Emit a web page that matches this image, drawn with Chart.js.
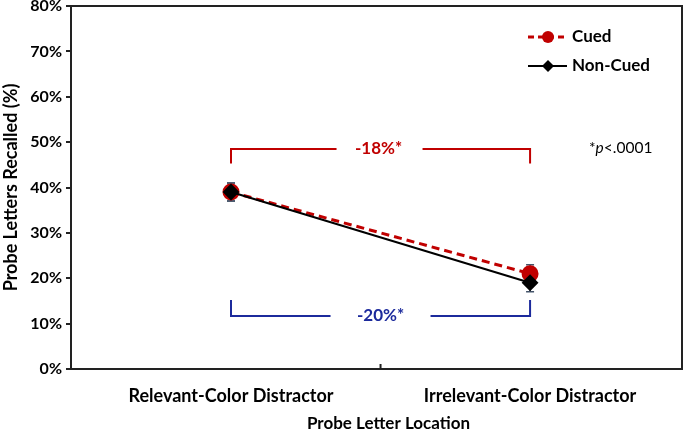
<!DOCTYPE html>
<html><head><meta charset="utf-8">
<script src="https://cdn.jsdelivr.net/npm/chart.js@4/dist/chart.umd.min.js"></script>
<style>html,body{margin:0;padding:0;background:#fff}#wrap{width:685px;height:432px}</style>
</head><body><div id="wrap"><canvas id="c" width="685" height="432"></canvas></div>
<script>
const categories = ["Relevant-Color Distractor", "Irrelevant-Color Distractor"];
const cuedValues = [39, 21];
const nonCuedValues = [39, 19];
const cuedErrors = [2, 2];
const nonCuedErrors = [2, 2];
const yTickValues = [0, 10, 20, 30, 40, 50, 60, 70, 80];
const cuedBracket = {top: 48.5, end: 45.3, label: "-18%*"};
const nonCuedBracket = {bottom: 11.7, end: 15.2, label: "-20%*"};
const seriesNames = ["Cued", "Non-Cued"];
const pNote = ["*", "p", "<.0001"];

const FONT = "Lato, 'Open Sans', sans-serif";
const RED = "#c00000", BLUE = "#1c2a9c", ERR = "#44546a";

const overlay = {
  id: 'overlay',
  beforeDatasetsDraw(chart) {
    const ctx = chart.ctx, x = chart.scales.x, y = chart.scales.y;
    ctx.save();
    ctx.strokeStyle = ERR; ctx.lineWidth = 1.5;
    [[cuedValues, cuedErrors], [nonCuedValues, nonCuedErrors]].forEach(([v, e]) => {
      v.forEach((val, i) => {
        const px = x.getPixelForValue(i);
        const t = y.getPixelForValue(val + e[i]), b = y.getPixelForValue(val - e[i]);
        ctx.beginPath();
        ctx.moveTo(px, t); ctx.lineTo(px, b);
        ctx.moveTo(px - 4, t); ctx.lineTo(px + 4, t);
        ctx.moveTo(px - 4, b); ctx.lineTo(px + 4, b);
        ctx.stroke();
      });
    });
    ctx.restore();
  },
  afterDraw(chart) {
    const ctx = chart.ctx, x = chart.scales.x, y = chart.scales.y, a = chart.chartArea;
    ctx.save();
    ctx.strokeStyle = "#222"; ctx.lineWidth = 2;
    ctx.strokeRect(a.left, a.top, a.right - a.left, a.bottom - a.top);
    const mid = x.getPixelForValue(0.5);
    ctx.beginPath(); ctx.moveTo(mid, a.bottom); ctx.lineTo(mid, a.bottom - 5); ctx.stroke();
    const x0 = x.getPixelForValue(0), x1 = x.getPixelForValue(1);
    ctx.font = "bold 17px " + FONT; ctx.textAlign = "center"; ctx.textBaseline = "middle";
    let yt = y.getPixelForValue(cuedBracket.top), ye = y.getPixelForValue(cuedBracket.end);
    ctx.strokeStyle = RED; ctx.lineWidth = 2;
    ctx.beginPath();
    ctx.moveTo(x0, ye); ctx.lineTo(x0, yt); ctx.lineTo(mid - 44, yt);
    ctx.moveTo(mid + 42, yt); ctx.lineTo(x1, yt); ctx.lineTo(x1, ye);
    ctx.stroke();
    ctx.fillStyle = RED; ctx.fillText(cuedBracket.label, mid - 2, yt);
    let yb = y.getPixelForValue(nonCuedBracket.bottom), ye2 = y.getPixelForValue(nonCuedBracket.end);
    ctx.strokeStyle = BLUE; ctx.lineWidth = 2;
    ctx.beginPath();
    ctx.moveTo(x0, ye2); ctx.lineTo(x0, yb); ctx.lineTo(mid - 50, yb);
    ctx.moveTo(mid + 50, yb); ctx.lineTo(x1, yb); ctx.lineTo(x1, ye2);
    ctx.stroke();
    ctx.fillStyle = BLUE; ctx.fillText(nonCuedBracket.label, mid, yb);
    ctx.fillStyle = "#000"; ctx.textAlign = "left";
    let px = 589; const py = 148;
    ctx.font = "15.5px " + FONT; ctx.fillText(pNote[0], px, py); px += ctx.measureText(pNote[0]).width;
    ctx.font = "italic 15.5px " + FONT; ctx.fillText(pNote[1], px, py); px += ctx.measureText(pNote[1]).width;
    ctx.font = "15.5px " + FONT; ctx.fillText(pNote[2], px, py);
    ctx.font = "bold 17px " + FONT;
    ctx.strokeStyle = RED; ctx.lineWidth = 3; ctx.setLineDash([6, 4]);
    ctx.beginPath(); ctx.moveTo(528, 37); ctx.lineTo(567, 37); ctx.stroke();
    ctx.setLineDash([]);
    ctx.fillStyle = RED; ctx.beginPath(); ctx.arc(548, 37, 6, 0, Math.PI * 2); ctx.fill();
    ctx.fillStyle = "#000"; ctx.fillText(seriesNames[0], 572, 37);
    ctx.strokeStyle = "#000"; ctx.lineWidth = 2;
    ctx.beginPath(); ctx.moveTo(528, 66); ctx.lineTo(567, 66); ctx.stroke();
    ctx.beginPath(); ctx.moveTo(548, 60); ctx.lineTo(554, 66); ctx.lineTo(548, 72); ctx.lineTo(542, 66); ctx.closePath(); ctx.fill();
    ctx.fillText(seriesNames[1], 572, 66);
    ctx.textAlign = "center";
    ctx.fillText("Probe Letter Location", (a.left + a.right) / 2 + 12, 424);
    ctx.save();
    ctx.font = "bold 18px " + FONT;
    ctx.translate(11, (a.top + a.bottom) / 2);
    ctx.rotate(-Math.PI / 2);
    ctx.fillText("Probe Letters Recalled (%)", 0, 0);
    ctx.restore();
    ctx.restore();
  }
};

new Chart(document.getElementById('c'), {
  type: 'line',
  data: {
    datasets: [
      { label: seriesNames[1], data: nonCuedValues.map((v, i) => ({x: i, y: v})), borderColor: "#000", backgroundColor: "#000",
        borderWidth: 2, pointStyle: 'rectRot', pointRadius: 7, pointHoverRadius: 7 },
      { label: seriesNames[0], data: cuedValues.map((v, i) => ({x: i, y: v})), borderColor: RED, backgroundColor: RED,
        borderWidth: 3, borderDash: [8, 5], pointStyle: 'circle', pointRadius: 7, pointHoverRadius: 7 }
    ]
  },
  options: {
    responsive: false, animation: false,
    layout: { autoPadding: false, padding: { top: 6, right: 3, left: 0, bottom: 0 } },
    plugins: { legend: { display: false }, tooltip: { enabled: false } },
    scales: {
      x: {
        type: 'linear', min: -0.535, max: 1.508,
        afterBuildTicks(s) { s.ticks = categories.map((c, i) => ({ value: i })); },
        grid: { display: false },
        border: { display: false },
        ticks: { color: "#000", font: { family: FONT, size: 18, weight: 'bold' }, padding: 8, maxRotation: 0,
          autoSkip: false, callback: (v) => categories[v] },
        afterFit(s) { s.height = 63; s.paddingLeft = 0; s.paddingRight = 0; }
      },
      y: {
        min: 0, max: 80,
        afterBuildTicks(s) { s.ticks = yTickValues.map(v => ({ value: v })); },
        grid: { drawOnChartArea: false, tickLength: 5, color: "#222", lineWidth: 2 },
        border: { display: false },
        ticks: { color: "#000", font: { family: FONT, size: 16, weight: 'bold' }, padding: 4,
          callback: v => v + "%" },
        afterFit(s) { s.width = 71; s.paddingTop = 0; s.paddingBottom = 0; }
      }
    }
  },
  plugins: [overlay]
});
</script></body></html>
